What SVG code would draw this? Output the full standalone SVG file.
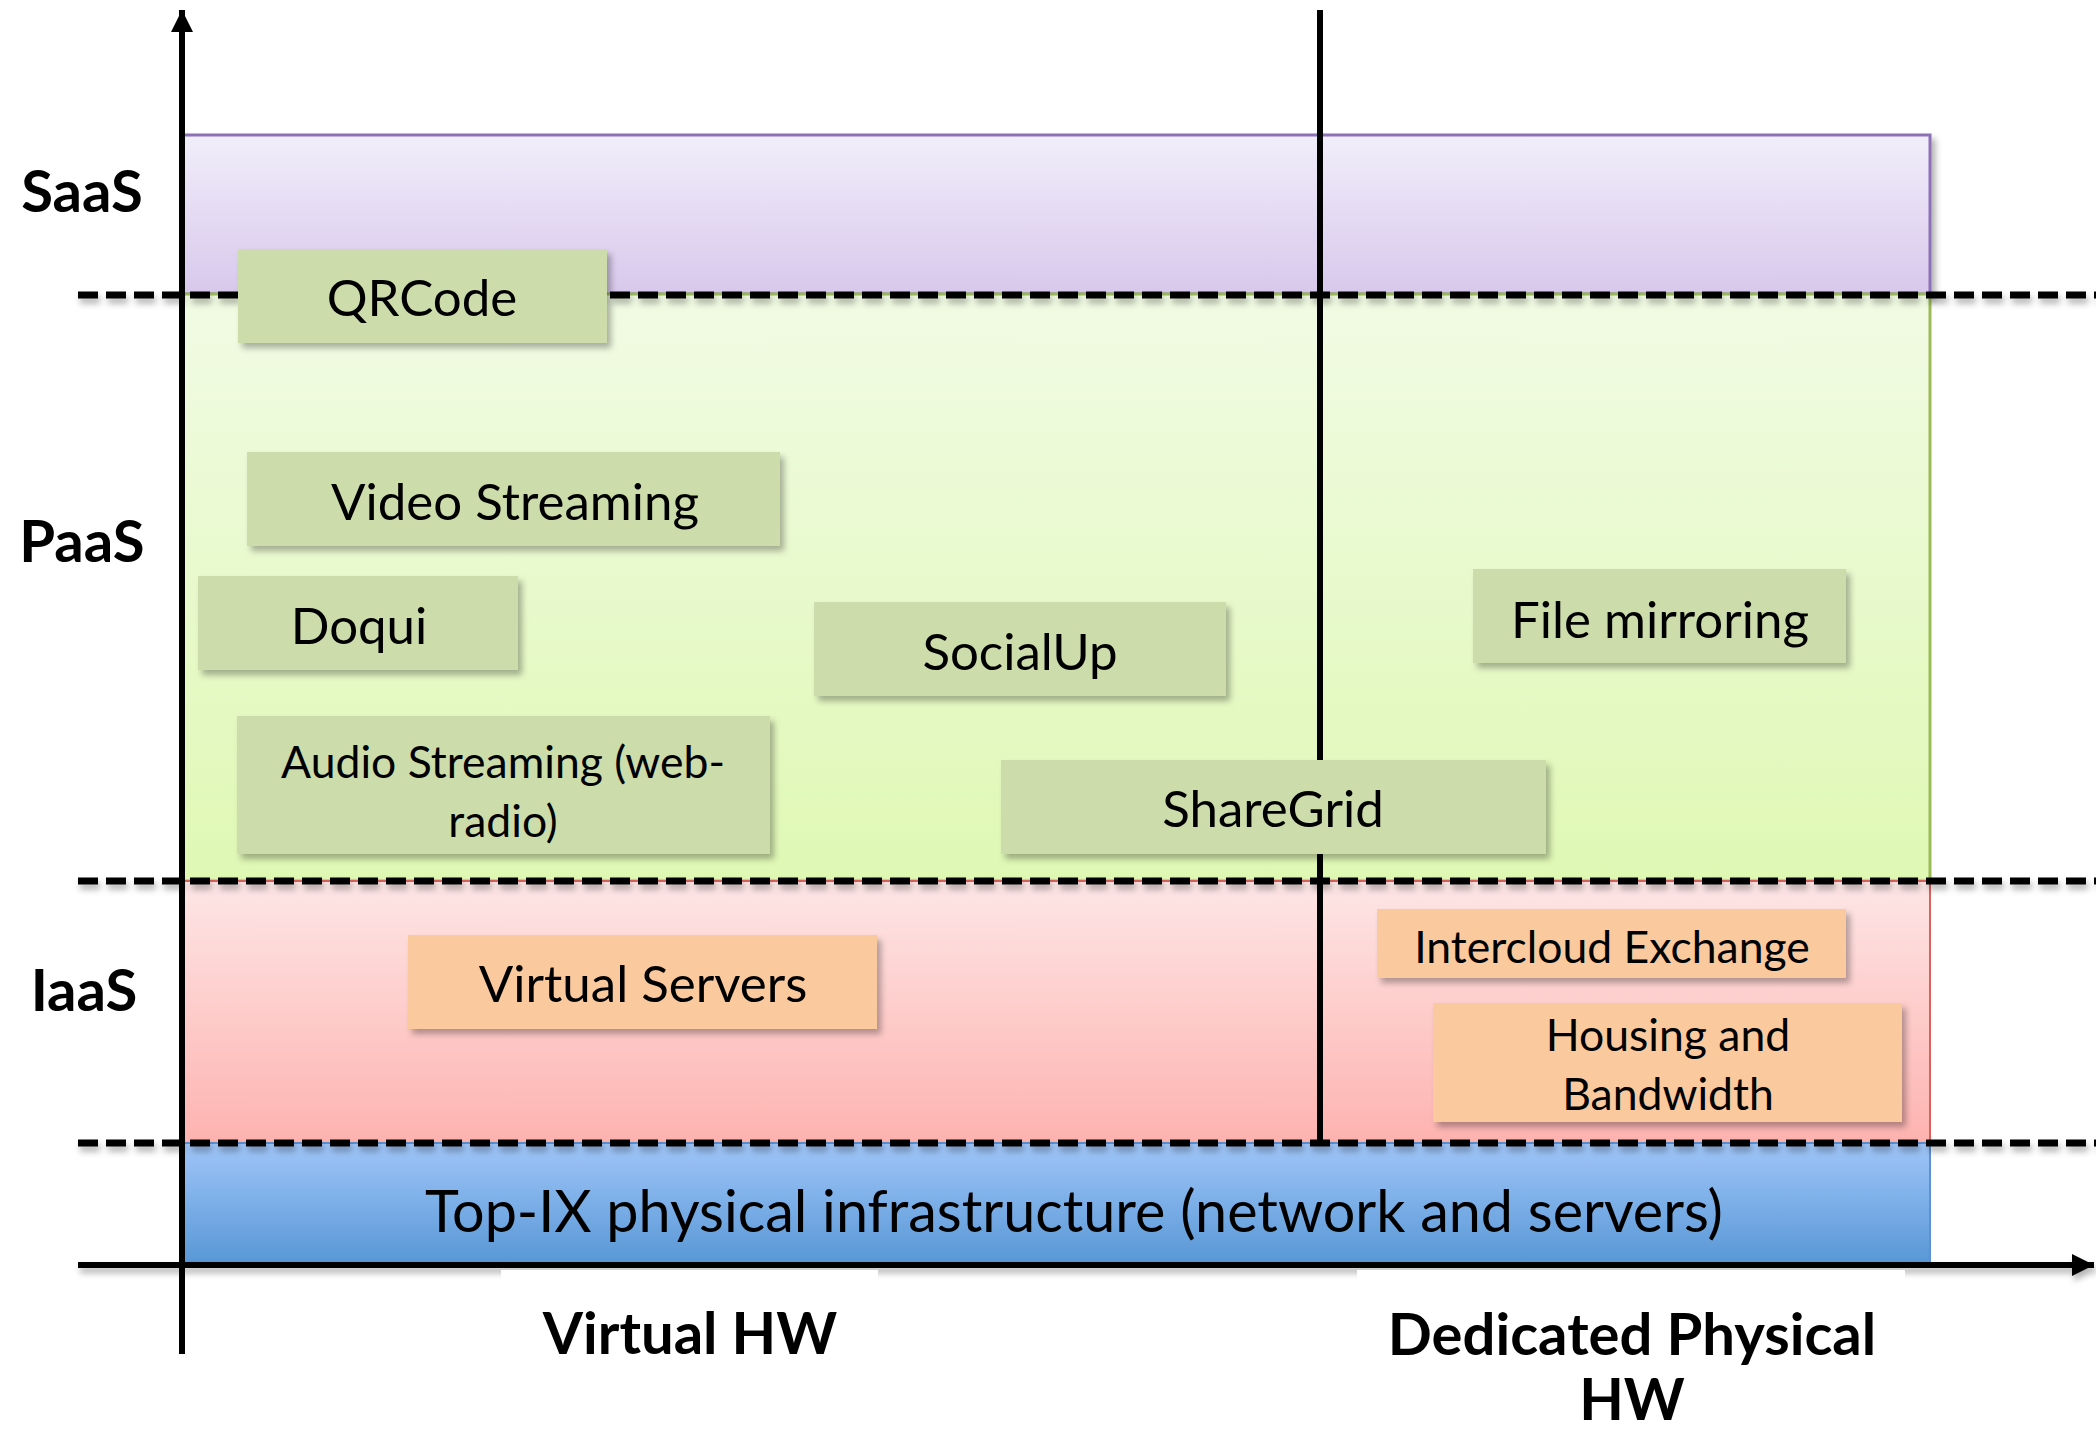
<svg xmlns="http://www.w3.org/2000/svg" width="2096" height="1433" viewBox="0 0 2096 1433">
<style>
.lbl{font-family:Lato,"Open Sans","Liberation Sans",sans-serif;font-weight:700;font-size:58px;fill:#000;text-anchor:middle}
.nt{font-family:Lato,"Open Sans","Liberation Sans",sans-serif;font-size:51px;fill:#000;text-anchor:middle}
.ns{font-size:44.5px}
.gn{fill:#CDDCAB}
.or{fill:#FAC99E}
.dash{stroke:#000;stroke-width:7;stroke-dasharray:20 8;fill:none}
.axis{stroke:#000;stroke-width:6;fill:none}
</style>
<defs>
<linearGradient id="gSaaS" x1="0" y1="0" x2="0" y2="1"><stop offset="0" stop-color="#F1EEFA"/><stop offset="1" stop-color="#D8C8EC"/></linearGradient>
<linearGradient id="gPaaS" x1="0" y1="0" x2="0" y2="1"><stop offset="0" stop-color="#F1FBE4"/><stop offset="1" stop-color="#DFF8B4"/></linearGradient>
<linearGradient id="gIaaS" x1="0" y1="0" x2="0" y2="1"><stop offset="0" stop-color="#FDE6E6"/><stop offset="1" stop-color="#FDB3B0"/></linearGradient>
<linearGradient id="gTop" x1="0" y1="0" x2="0" y2="1"><stop offset="0" stop-color="#A0C6F9"/><stop offset="1" stop-color="#5897D6"/></linearGradient>
<filter id="sh" x="-10%" y="-20%" width="130%" height="160%"><feDropShadow dx="4" dy="5" stdDeviation="3" flood-color="#000" flood-opacity="0.3"/></filter>
<filter id="lsh" filterUnits="userSpaceOnUse" x="0" y="0" width="2096" height="1433"><feDropShadow dx="2" dy="5" stdDeviation="3" flood-color="#000" flood-opacity="0.3"/></filter>
<marker id="ah" viewBox="0 0 22 22" refX="22" refY="11" markerWidth="22" markerHeight="22" markerUnits="userSpaceOnUse" orient="auto"><path d="M0,0 L22,11 L0,22 z" fill="#000"/></marker>
</defs>
<rect width="2096" height="1433" fill="#fff"/>
<g id="bands">
<rect id="band-saas" x="183" y="135" width="1747" height="159" fill="url(#gSaaS)" stroke="#8C71B6" stroke-width="3" filter="url(#sh)"/>
<rect id="band-paas" x="183" y="294" width="1747" height="587" fill="url(#gPaaS)" stroke="#9BBB59" stroke-width="3"/>
<rect id="band-iaas" x="183" y="881" width="1747" height="262" fill="url(#gIaaS)" stroke="#D9625F" stroke-width="2"/>
<rect id="band-top" x="183" y="1143" width="1747" height="120" fill="url(#gTop)" stroke="#5C92CF" stroke-width="2"/>
</g>
<g id="connectors">
<line class="dash" x1="78" y1="295" x2="2096" y2="295" filter="url(#lsh)"/>
<line class="dash" x1="78" y1="881" x2="2096" y2="881" filter="url(#lsh)"/>
<line class="dash" x1="78" y1="1143" x2="2096" y2="1143" filter="url(#lsh)"/>
<line class="axis" x1="1320" y1="10" x2="1320" y2="1143"/>
<line class="axis" x1="78" y1="1265" x2="2094" y2="1265" marker-end="url(#ah)" filter="url(#lsh)"/>
<line class="axis" x1="182" y1="1354" x2="182" y2="10" marker-end="url(#ah)"/>
</g>
<rect x="501" y="1270" width="377" height="40" fill="#fff"/>
<rect x="1357" y="1270" width="548" height="40" fill="#fff"/>
<g id="node-qrcode"><rect class="gn" x="238" y="249" width="369" height="94" filter="url(#sh)"/><text class="nt" x="422" y="316">QRCode</text></g>
<g id="node-video"><rect class="gn" x="247" y="452" width="533" height="94" filter="url(#sh)"/><text class="nt" x="515" y="520">Video Streaming</text></g>
<g id="node-doqui"><rect class="gn" x="198" y="576" width="320" height="94" filter="url(#sh)"/><text class="nt" x="359" y="644">Doqui</text></g>
<g id="node-audio"><rect class="gn" x="237" y="716" width="533" height="138" filter="url(#sh)"/><text class="nt ns" x="503" y="778">Audio Streaming (web-</text><text class="nt ns" x="503" y="837">radio)</text></g>
<g id="node-socialup"><rect class="gn" x="814" y="602" width="412" height="94" filter="url(#sh)"/><text class="nt" x="1020" y="670">SocialUp</text></g>
<g id="node-filemirroring"><rect class="gn" x="1473" y="569" width="373" height="94" filter="url(#sh)"/><text class="nt" x="1660" y="638">File mirroring</text></g>
<g id="node-sharegrid"><rect class="gn" x="1001" y="760" width="545" height="94" filter="url(#sh)"/><text class="nt" x="1273" y="827">ShareGrid</text></g>
<g id="node-virtualservers"><rect class="or" x="408" y="935" width="469" height="94" filter="url(#sh)"/><text class="nt" x="643" y="1002">Virtual Servers</text></g>
<g id="node-intercloud"><rect class="or" x="1377" y="909" width="469" height="69" filter="url(#sh)"/><text class="nt ns" x="1612" y="963">Intercloud Exchange</text></g>
<g id="node-housing"><rect class="or" x="1433" y="1003" width="469" height="119" filter="url(#sh)"/><text class="nt ns" x="1668" y="1051">Housing and</text><text class="nt ns" x="1668" y="1110">Bandwidth</text></g>
<g id="node-topix"><text class="nt" x="1074" y="1232" style="font-size:57.5px">Top-IX physical infrastructure (network and servers)</text></g>
<g id="labels">
<text class="lbl" x="82" y="212">SaaS</text>
<text class="lbl" x="82" y="562">PaaS</text>
<text class="lbl" x="84" y="1011">IaaS</text>
<text class="lbl" x="690" y="1354">Virtual HW</text>
<text class="lbl" x="1632" y="1355">Dedicated Physical</text>
<text class="lbl" x="1632" y="1420">HW</text>
</g>
</svg>
